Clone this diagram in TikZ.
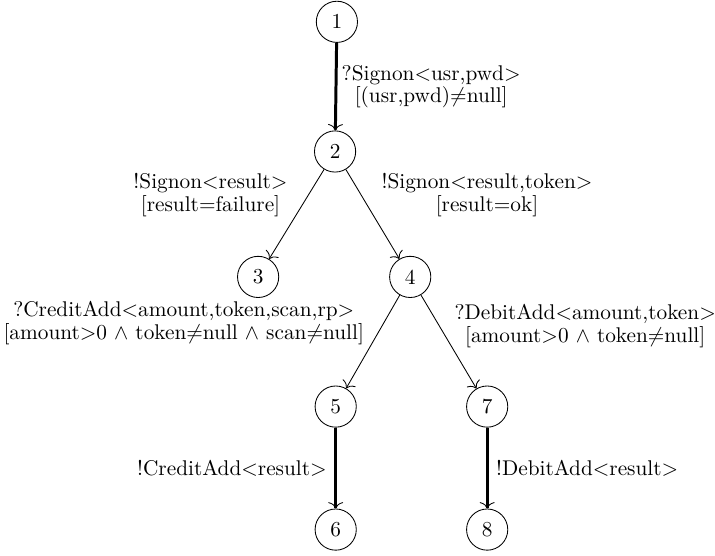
\documentclass[tikz,border=0pt]{standalone}
\usepackage{tikz}
\usetikzlibrary{calc,arrows.meta}
\tikzset{
  state/.style={draw, circle, minimum size=0.68cm, inner sep=0pt},
  tip/.style={-{To[width=7pt, length=3pt, line width=0.4pt]}},
  thinedge/.style={tip},
  thickedge/.style={tip, line width=1.4pt},
  lbl/.style={align=center, inner sep=2pt, execute at begin node=\setlength{\baselineskip}{10.6pt}}
}

\begin{document}
\begin{tikzpicture}
			%%%%% START %%%%%
			\useasboundingbox (0, 0) rectangle (11.80, 9.17);
			
			\node[state] (n1) at (5.56, 8.81) {1};
			\node[state] (n2) at (5.53, 6.67) {2};
			\node[state] (n3) at (4.26, 4.60) {3};
			\node[state] (n4) at (6.77, 4.60) {4};
			\node[state] (n5) at (5.54, 2.46) {5};
			\node[state] (n7) at (8.04, 2.46) {7};
			\node[state] (n6) at (5.54, 0.43) {6};
			\node[state] (n8) at (8.04, 0.43) {8};
			
			\draw[thickedge] (n1) -- node[lbl, right] {?Signon$<$usr,pwd$>$\\{[(usr,pwd)$\neq$null]}} (n2);
			
			\draw[thinedge] (n2) -- node[lbl, above left, pos=0.58] {!Signon$<$result$>$\\{[result$=$failure]}} (n3);
			\draw[thinedge] (n2) -- node[lbl, above right, pos=0.58] {!Signon$<$result,token$>$\\{[result$=$ok]}} (n4);
			
			\draw[thinedge] (n4) -- node[lbl, above left, pos=0.58] {?CreditAdd$<$amount,token,scan,rp$>$\\{[amount$>$0 $\wedge$ token$\neq$null $\wedge$ scan$\neq$null]}} (n5);
			\draw[thinedge] (n4) -- node[lbl, above right, pos=0.58, inner sep=0.5pt] {?DebitAdd$<$amount,token$>$\\{[amount$>$0 $\wedge$ token$\neq$null]}} (n7);
			
			\draw[thickedge] (n5) -- node[lbl, left, inner sep=3.5pt] {!CreditAdd$<$result$>$} (n6);
			\draw[thickedge] (n7) -- node[lbl, right, inner sep=3.5pt] {!DebitAdd$<$result$>$} (n8);
			%%%%% END %%%%%
\end{tikzpicture}
\end{document}
